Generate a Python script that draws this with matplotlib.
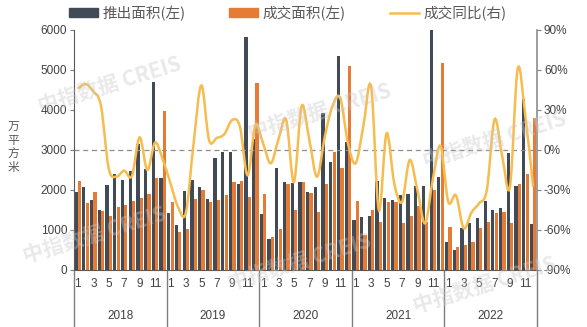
import numpy as np
import matplotlib
matplotlib.use("Agg")
import matplotlib.pyplot as plt
from matplotlib.patches import Patch, PathPatch
from matplotlib.lines import Line2D
from matplotlib.path import Path

plt.rcParams['font.family'] = ['Liberation Sans', 'Noto Sans CJK SC', 'DejaVu Sans']

years = ['2018', '2019', '2020', '2021', '2022']
month_labels = ['1', '3', '5', '7', '9', '11']

launch = [1950, 2075, 1750, 1510, 2130, 2400, 2240, 2465, 3145, 2530, 4690, 2290,
          1435, 1137, 1967, 2257, 2083, 1776, 2805, 2954, 2954, 2158, 5820, 3278,
          1394, 772, 2556, 2191, 2174, 2207, 1959, 2075, 3925, 2697, 5350, 3195,
          1245, 1328, 1353, 2216, 1801, 1759, 1884, 1900, 2100, 2090, 6000, 2330,
          705, 506, 1046, 1170, 1303, 1734, 1510, 1560, 2921, 2108, 4285, 1145]
deal = [2220, 1670, 1940, 1470, 1345, 1585, 1620, 1720, 1810, 1890, 2290, 3970,
        1700, 938, 1020, 1768, 2008, 1693, 1743, 1884, 2191, 2232, 1834, 4680,
        1909, 830, 1020, 2158, 1510, 2207, 1934, 1452, 2158, 2946, 2548, 5090,
        1726, 871, 1502, 1212, 1693, 1693, 1170, 1344, 1593, 1208, 2000, 5175,
        1079, 581, 631, 689, 1054, 1195, 1427, 1444, 1170, 2141, 2390, 3800]
yoy = [46, 49.5, 44, 33, -14, -20, -15.5, -19.5, 9.5, -15, 5.5, -7,
       -25, -43, -47, 5, 48.5, 7.5, 9, 12, 22.5, 17.5, -19, 18.5,
       5, -10, 8, 22.5, -24, 33, 7.5, -20, 10, 33, 39, 5,
       -10, 18, 47.5, -45, 12.5, -25, -39, -7.5, -30, -55, -22, 3,
       -38.8, -34, -58.7, -47, -40, -30, 23, -5, -27.5, 61, 25, -27.5]

legend_labels = ['推出面积(左)', '成交面积(左)', '成交同比(右)']
ylabel = '万平方米'
watermark = '中指数据 CREIS'

c_dark = '#414A55'
c_orange = '#E57B35'
c_line = '#F6BC4F'
c_text = '#404040'

W, H = 587, 327
fig = plt.figure(figsize=(W / 100, H / 100), dpi=100)

# watermarks
for (wx, wy) in [(110, 85), (320, 112), (95, 235), (300, 262), (495, 140),
                 (485, 285)]:
    fig.text(wx / W, 1 - wy / H, watermark, fontsize=15, fontweight='bold',
             color='#c8c8c8', alpha=0.4, rotation=17, ha='center', va='center',
             family=['Noto Sans CJK SC', 'DejaVu Sans'], zorder=0)

ax = fig.add_axes([74 / W, 57 / H, 463 / W, 240 / H])
ax.patch.set_alpha(0)
ax2 = ax.twinx()

n = len(launch)
x = np.arange(n)
bw = 0.42
ax.bar(x - 0.22, launch, width=bw, color=c_dark, zorder=2)
ax.bar(x + 0.22, deal, width=bw, color=c_orange, zorder=2)
ax.set_xlim(-0.5, n - 0.5)
ax.set_ylim(0, 6000)
ax.set_yticks(np.arange(0, 6001, 1000))
ax.tick_params(axis='y', direction='out', length=3, width=0.8, color='#7f7f7f',
               labelsize=8.5, labelcolor=c_text, pad=2)

# month ticks
pos = []
labs = []
for yi in range(len(years)):
    for mi, ml in enumerate(month_labels):
        pos.append(yi * 12 + mi * 2)
        labs.append(ml)
ax.set_xticks(pos)
ax.set_xticklabels(labs)
ax.tick_params(axis='x', length=0, labelsize=8.5, labelcolor=c_text, pad=6)

for s in ['top', 'right']:
    ax.spines[s].set_visible(False)
ax.spines['left'].set_color('#595959')
ax.spines['bottom'].set_color('#595959')

# year labels and separators
for yi, yl in enumerate(years):
    ax.text(yi * 12 + 5.5, -0.192, yl, transform=ax.get_xaxis_transform(),
            ha='center', va='center', fontsize=8.5, color=c_text)
for b in range(len(years) + 1):
    ax.plot([b * 12 - 0.5, b * 12 - 0.5], [0, -0.235], transform=ax.get_xaxis_transform(),
            color='#7f7f7f', lw=1, clip_on=False)

# right axis line (smoothed)
ax2.set_ylim(-90, 90)
ax2.set_yticks(np.arange(-90, 91, 30))
ax2.set_yticklabels([f'{v}%' for v in range(-90, 91, 30)])
ax2.tick_params(axis='y', direction='out', length=3, width=0.8, color='#7f7f7f',
                labelsize=8.5, labelcolor=c_text, pad=2)
for s in ['top', 'left', 'bottom']:
    ax2.spines[s].set_visible(False)
ax2.spines['right'].set_color('#8c8c8c')
ax2.spines['right'].set_linewidth(1.2)
ax2.axhline(0, color='#8c8c8c', lw=0.9, ls=(0, (4, 3)), zorder=1)

verts = [(x[0], yoy[0])]
codes = [Path.MOVETO]
for i in range(n - 1):
    p0 = i - 1 if i > 0 else i
    p3 = i + 2 if i + 2 < n else i + 1
    c1 = (x[i] + (x[i + 1] - x[p0]) / 6, yoy[i] + (yoy[i + 1] - yoy[p0]) / 6)
    c2 = (x[i + 1] - (x[p3] - x[i]) / 6, yoy[i + 1] - (yoy[p3] - yoy[i]) / 6)
    verts += [c1, c2, (x[i + 1], yoy[i + 1])]
    codes += [Path.CURVE4] * 3
ax2.add_patch(PathPatch(Path(verts, codes), fill=False, edgecolor=c_line, lw=1.8, zorder=3))

# y label
fig.text(13 / W, 1 - 147 / H, '\n'.join(ylabel), ha='center', va='center', fontsize=8.5,
         color='#595959', linespacing=1.05, family=['Noto Sans CJK SC'])

handles = [Patch(color=c_dark), Patch(color=c_orange), Line2D([0], [0], color=c_line, lw=1.8)]
fig.legend(handles, legend_labels, loc='center', bbox_to_anchor=(0.49, 1 - 13 / H), ncol=3,
           frameon=False, handlelength=2.0, handleheight=0.5, handletextpad=0.3,
           columnspacing=3.0, labelcolor='#595959', prop={'family': ['Noto Sans CJK SC'], 'size': 10.5})

fig.savefig('out.png', dpi=100)
